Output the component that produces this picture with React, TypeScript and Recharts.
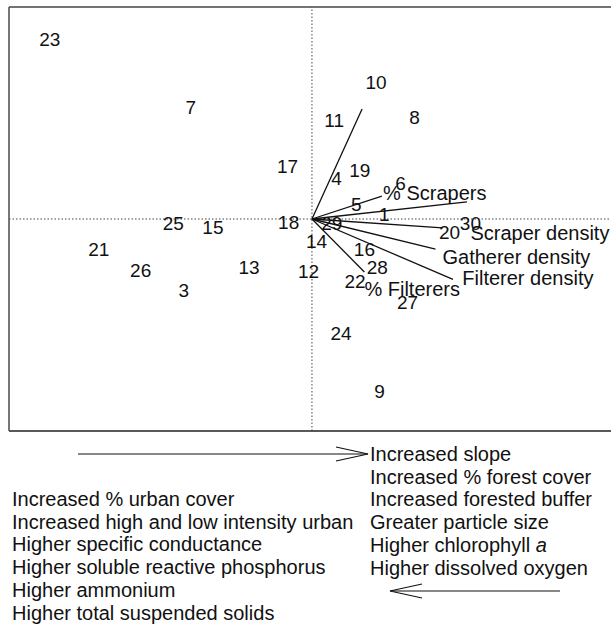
import {
  ScatterChart,
  Scatter,
  XAxis,
  YAxis,
  ReferenceLine,
} from "recharts";

// Site scores (ordination biplot), one entry per site number
const SITE_IDS = [
  "1", "3", "4", "5", "6", "7", "8", "9", "10", "11", "12", "13", "14", "15", "16",
  "17", "18", "19", "20", "21", "22", "23", "24", "25", "26", "27", "28", "29", "30",
];
const SITE_X = [
  0.62, -1.1, 0.21, 0.38, 0.76, -1.04, 0.88, 0.58, 0.55, 0.19, -0.03, -0.54, 0.04, -0.85, 0.45,
  -0.21, -0.2, 0.41, 1.18, -1.83, 0.37, -2.25, 0.25, -1.19, -1.47, 0.82, 0.56, 0.17, 1.36,
];
const SITE_Y = [
  0.06, -0.88, 0.5, 0.18, 0.44, 1.37, 1.24, -2.12, 1.67, 1.21, -0.64, -0.6, -0.28, -0.11, -0.37,
  0.64, -0.04, 0.59, -0.17, -0.38, -0.77, 2.2, -1.41, -0.05, -0.63, -1.03, -0.59, -0.05, -0.05,
];

// Biplot vectors drawn from the origin
const VECTOR_END_X = [0.43, 0.6, 1.33, 1.12, 1.06, 1.21, 0.45];
const VECTOR_END_Y = [1.35, 0.28, 0.21, -0.11, -0.37, -0.74, -0.65];

// Vector labels (left edge of the text)
const VECTOR_LABELS = ["% Scrapers", "Scraper density", "Gatherer density", "Filterer density", "% Filterers"];
const VECTOR_LABEL_X = [0.61, 1.36, 1.12, 1.29, 0.45];
const VECTOR_LABEL_Y = [0.32, -0.17, -0.47, -0.72, -0.86];

const AXIS_TICKS = [-2, -1, 0, 1, 2];
// the frame runs well past the right edge of the picture
const X_DOMAIN: [number, number] = [-2.6, 3.33];
const Y_DOMAIN: [number, number] = [-2.6, 2.6];

const RIGHT_TEXT = [
  "Increased slope",
  "Increased % forest cover",
  "Increased forested buffer",
  "Greater particle size",
  "Higher chlorophyll ",
  "Higher dissolved oxygen",
];
const LEFT_TEXT = [
  "Increased % urban cover",
  "Increased high and low intensity urban",
  "Higher specific conductance",
  "Higher soluble reactive phosphorus",
  "Higher ammonium",
  "Higher total suspended solids",
];

const FONT = "'Liberation Sans', Arial, Helvetica, sans-serif";

const sites = SITE_IDS.map((id, i) => ({ x: SITE_X[i], y: SITE_Y[i], label: id }));
const labels = VECTOR_LABELS.map((t, i) => ({ x: VECTOR_LABEL_X[i], y: VECTOR_LABEL_Y[i], label: t }));

const SiteText = (props: any) => (
  <text
    x={props.cx}
    y={props.cy}
    textAnchor="middle"
    dominantBaseline="central"
    fontSize={19}
    fontFamily={FONT}
    fill="#111"
  >
    {props.payload.label}
  </text>
);

const VectorText = (props: any) => (
  <text
    x={props.cx}
    y={props.cy}
    textAnchor="start"
    dominantBaseline="central"
    fontSize={20}
    fontFamily={FONT}
    fill="#111"
  >
    {props.payload.label}
  </text>
);

export default function App() {
  return (
    <div
      style={{
        position: "absolute",
        left: 0,
        top: 0,
        width: 611,
        height: 627,
        overflow: "hidden",
        background: "#fff",
      }}
    >
      <ScatterChart width={700} height={432} margin={{ top: 7, right: 0, bottom: 0, left: 0 }}>
        <XAxis
          type="number"
          dataKey="x"
          domain={X_DOMAIN}
          ticks={AXIS_TICKS}
          allowDataOverflow
          height={1}
          tick={false}
          tickSize={3}
          axisLine={{ stroke: "#222", strokeWidth: 1.6 }}
          tickLine={{ stroke: "#555" }}
        />
        <YAxis
          type="number"
          dataKey="y"
          domain={Y_DOMAIN}
          ticks={AXIS_TICKS}
          allowDataOverflow
          width={9}
          tick={false}
          tickSize={2}
          axisLine={{ stroke: "#555", strokeWidth: 1.6 }}
          tickLine={{ stroke: "#555" }}
        />
        <ReferenceLine y={2.6} stroke="#444" strokeWidth={1.4} />
        <ReferenceLine x={0} stroke="#444" strokeDasharray="1.5 2" />
        <ReferenceLine y={0} stroke="#444" strokeDasharray="1.5 2" />
        {VECTOR_END_X.map((ex, i) => (
          <ReferenceLine
            key={i}
            segment={[
              { x: 0, y: 0 },
              { x: ex, y: VECTOR_END_Y[i] },
            ]}
            stroke="#111"
            strokeWidth={1.3}
          />
        ))}
        <Scatter data={sites} shape={SiteText} isAnimationActive={false} />
        <Scatter data={labels} shape={VectorText} isAnimationActive={false} />
      </ScatterChart>

      <svg
        width={611}
        height={627}
        style={{ position: "absolute", left: 0, top: 0, pointerEvents: "none" }}
        fontFamily={FONT}
        fontSize={20}
        fill="#111"
      >
        <g stroke="#111" strokeWidth={1.2} fill="none">
          <line x1={78} y1={454} x2={368} y2={454} />
          <polyline points="336,447 368,454 336,461" />
          <line x1={390} y1={591} x2={560} y2={591} />
          <polyline points="422,584 390,591 422,598" />
        </g>
        {RIGHT_TEXT.map((t, i) => (
          <text key={t} x={370} y={461 + i * 22.7}>
            {t}
            {i === 4 ? <tspan fontStyle="italic">a</tspan> : null}
          </text>
        ))}
        {LEFT_TEXT.map((t, i) => (
          <text key={t} x={12} y={506 + i * 22.7}>
            {t}
          </text>
        ))}
      </svg>
    </div>
  );
}
